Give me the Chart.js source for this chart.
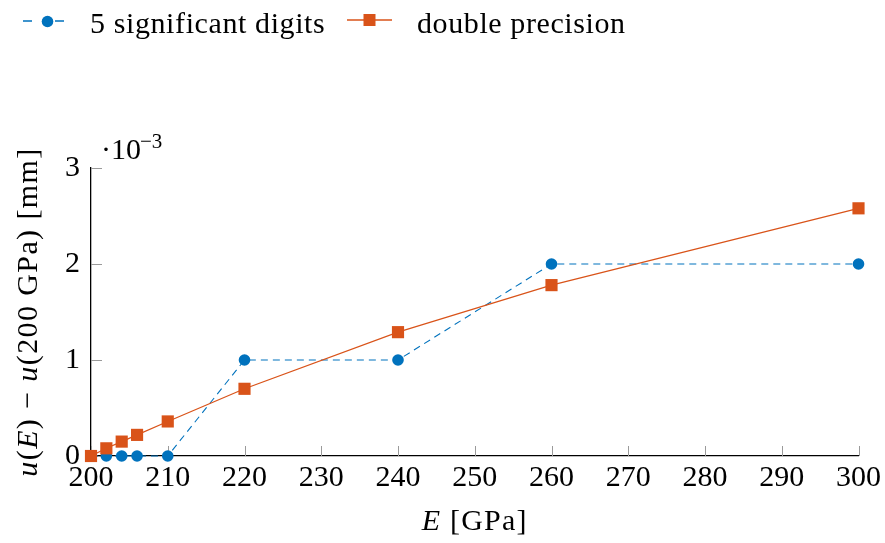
<!DOCTYPE html>
<html>
<head>
<meta charset="utf-8">
<script src="https://cdn.jsdelivr.net/npm/chart.js@4/dist/chart.umd.min.js"></script>
<style>
  html, body { margin: 0; padding: 0; background: #fff; }
  #wrap { width: 885px; height: 543px; }
</style>
</head>
<body>
<div id="wrap"><canvas id="c" width="885" height="543"></canvas></div>
<script>
// Young's modulus E [GPa] at which the displacement was evaluated
const youngsModulus = [200, 202, 204, 206, 210, 220, 240, 260, 300];
// u(E) - u(200 GPa) in units of 1e-3 mm
const fiveDigits      = [0, 0, 0, 0, 0, 1, 1, 2, 2];
const doublePrecision = [0, 0.08, 0.15, 0.22, 0.36, 0.70, 1.29, 1.78, 2.58];
const seriesNames = ['5 significant digits', 'double precision'];
const xTicks = [200, 210, 220, 230, 240, 250, 260, 270, 280, 290, 300];
const yTicks = [0, 1, 2, 3];

const BLUE = '#0072BD';
const ORANGE = '#D95319';
const SERIF = '"Liberation Serif", "Times New Roman", serif';

function pairs(xs, ys) { return xs.map((x, i) => ({ x: x, y: ys[i] })); }

// draw a run of text pieces (some italic) centred on cx, with a common baseline
function drawRuns(ctx, runs, cx, y, size, spacing) {
  ctx.letterSpacing = spacing + 'px';
  let total = 0;
  const widths = runs.map(r => {
    ctx.font = (r.it ? 'italic ' : '') + size + 'px ' + SERIF;
    const w = ctx.measureText(r.t).width;
    total += w;
    return w;
  });
  let x = cx - total / 2;
  runs.forEach((r, i) => {
    ctx.font = (r.it ? 'italic ' : '') + size + 'px ' + SERIF;
    ctx.fillText(r.t, x, y);
    x += widths[i];
  });
  ctx.letterSpacing = '0px';
}

const decorations = {
  id: 'decorations',
  beforeDatasetsDraw(chart) {
    const { ctx, chartArea, scales } = chart;
    ctx.save();
    ctx.strokeStyle = '#9a9a9a';
    ctx.lineWidth = 1;
    ctx.beginPath();
    xTicks.forEach(v => {
      const px = Math.round(scales.x.getPixelForValue(v)) + 0.5;
      ctx.moveTo(px, chartArea.bottom);
      ctx.lineTo(px, chartArea.bottom - 10);
    });
    yTicks.forEach(v => {
      const py = Math.round(scales.y.getPixelForValue(v)) + 0.5;
      ctx.moveTo(chartArea.left, py);
      ctx.lineTo(chartArea.left + 11, py);
    });
    ctx.stroke();
    ctx.restore();
  },
  afterDraw(chart) {
    const { ctx, chartArea } = chart;
    ctx.save();
    ctx.fillStyle = '#000';
    ctx.textBaseline = 'alphabetic';
    ctx.textAlign = 'left';
    ctx.setLineDash([]);

    // x-axis title
    drawRuns(ctx, [{ t: 'E', it: true }, { t: ' [GPa]' }],
      (chartArea.left + chartArea.right) / 2, 530, 30, 1.2);

    // y-axis title
    ctx.save();
    ctx.translate(37, (chartArea.top + chartArea.bottom) / 2);
    ctx.rotate(-Math.PI / 2);
    drawRuns(ctx, [
      { t: 'u', it: true }, { t: '(' }, { t: 'E', it: true }, { t: ') \u2212 ' },
      { t: 'u', it: true }, { t: '(200 GPa) [mm]' }
    ], 0, 0, 30, 1.4);
    ctx.restore();

    // scale factor of the y axis
    ctx.font = '30px ' + SERIF;
    ctx.fillText('\u00B710', 101, 159);
    ctx.font = '21px ' + SERIF;
    ctx.fillText('\u22123', 140, 148);

    // legend
    ctx.font = '30px ' + SERIF;
    ctx.letterSpacing = '0.6px';
    ctx.fillText(seriesNames[0], 90, 33);
    ctx.fillText(seriesNames[1], 417, 33);
    ctx.letterSpacing = '0px';

    ctx.lineWidth = 1.3;
    ctx.strokeStyle = BLUE;
    ctx.beginPath();
    ctx.moveTo(23, 21); ctx.lineTo(32, 21);
    ctx.moveTo(55, 21); ctx.lineTo(64, 21);
    ctx.stroke();
    ctx.fillStyle = BLUE;
    ctx.beginPath();
    ctx.arc(47.5, 21.5, 5.8, 0, Math.PI * 2);
    ctx.fill();

    ctx.strokeStyle = ORANGE;
    ctx.beginPath();
    ctx.moveTo(347, 20); ctx.lineTo(392, 20);
    ctx.stroke();
    ctx.fillStyle = ORANGE;
    ctx.fillRect(363.5, 14, 12, 12);
    ctx.restore();
  }
};

const tickFont = { family: SERIF, size: 30 };

new Chart(document.getElementById('c'), {
  type: 'line',
  data: {
    datasets: [
      {
        label: seriesNames[0],
        data: pairs(youngsModulus, fiveDigits),
        borderColor: BLUE,
        backgroundColor: BLUE,
        borderWidth: 1.1,
        borderDash: [7, 5],
        pointStyle: 'circle',
        pointRadius: 5.8,
        pointBorderWidth: 0,
        pointBackgroundColor: BLUE,
        tension: 0,
        clip: false,
        order: 1
      },
      {
        label: seriesNames[1],
        data: pairs(youngsModulus, doublePrecision),
        borderColor: ORANGE,
        backgroundColor: ORANGE,
        borderWidth: 1.2,
        pointStyle: 'rect',
        pointRadius: 8.6,
        pointBorderWidth: 0,
        pointBackgroundColor: ORANGE,
        tension: 0,
        clip: false,
        order: 0
      }
    ]
  },
  options: {
    responsive: false,
    animation: false,
    devicePixelRatio: 1,
    events: [],
    layout: { padding: { top: 168, right: 23, left: 0, bottom: 0 } },
    plugins: { legend: { display: false }, tooltip: { enabled: false } },
    scales: {
      x: {
        type: 'linear',
        min: 200,
        max: 300,
        afterBuildTicks: s => { s.ticks = xTicks.map(v => ({ value: v })); },
        afterFit: s => { s.height = 87; },
        grid: { display: false, drawTicks: false },
        border: { display: true, color: '#000', width: 1.3 },
        ticks: { font: tickFont, color: '#000', padding: 4, maxRotation: 0, autoSkip: false }
      },
      y: {
        type: 'linear',
        min: 0,
        max: 3,
        afterBuildTicks: s => { s.ticks = yTicks.map(v => ({ value: v })); },
        afterFit: s => { s.width = 91; },
        grid: { display: false, drawTicks: false },
        border: { display: true, color: '#000', width: 1.3 },
        ticks: { font: tickFont, color: '#000', padding: 11 }
      }
    }
  },
  plugins: [decorations]
});
</script>
</body>
</html>
